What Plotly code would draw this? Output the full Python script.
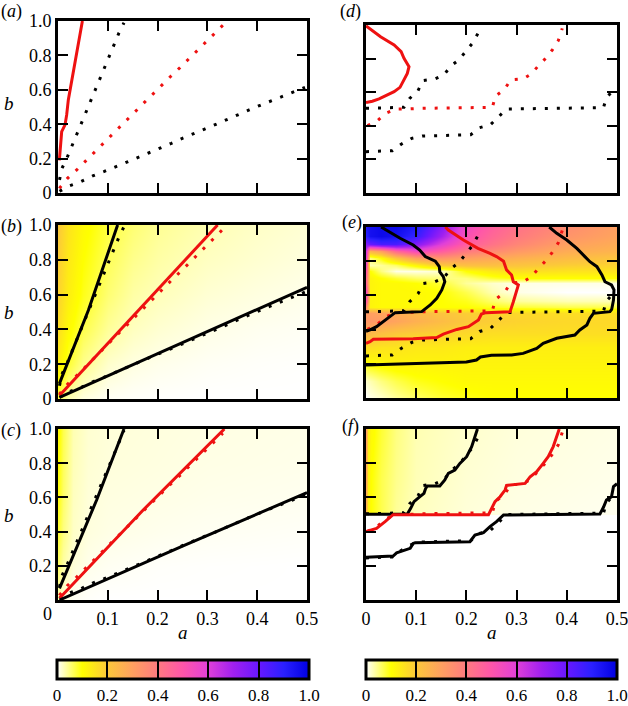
import plotly.graph_objects as go

FONT = "Liberation Serif"
W, H = 628, 706

# ---------------- data ----------------
# panels (a)-(c): dotted reference lines
steep_dot_a = [0.003, 0.008, 0.019, 0.028, 0.0375, 0.046, 0.056, 0.066, 0.0756, 0.084, 0.094, 0.103, 0.113, 0.122, 0.1325]
steep_dot_b = [0.076, 0.143, 0.211, 0.273, 0.337, 0.405, 0.471, 0.537, 0.599, 0.665, 0.731, 0.797, 0.860, 0.928, 0.990]
mid_dot_a = [0.0027, 0.019, 0.0375, 0.054, 0.071, 0.088, 0.106, 0.122, 0.140, 0.157, 0.175, 0.192, 0.2095, 0.227, 0.245, 0.262, 0.280, 0.297, 0.314, 0.331]
mid_dot_b = [0.027, 0.085, 0.134, 0.182, 0.234, 0.283, 0.331, 0.380, 0.432, 0.479, 0.531, 0.579, 0.632, 0.680, 0.729, 0.777, 0.828, 0.876, 0.924, 0.975]
shallow_dot_a = [0.003, 0.024, 0.046, 0.0696, 0.092, 0.115, 0.138, 0.161, 0.183, 0.2055, 0.2276, 0.2497, 0.272, 0.2945, 0.317, 0.339, 0.361, 0.384, 0.406, 0.429, 0.451, 0.4726, 0.496]
shallow_dot_b = [0.01, 0.043, 0.066, 0.099, 0.124, 0.153, 0.178, 0.207, 0.234, 0.264, 0.289, 0.318, 0.343, 0.372, 0.399, 0.428, 0.455, 0.483, 0.510, 0.537, 0.564, 0.591, 0.614]

# panel (a): red solid
a_red_a = [0.0027, 0.0054, 0.0074, 0.0141, 0.0174, 0.0207, 0.0254, 0.034, 0.0415, 0.0482, 0.049]
a_red_b = [0.19, 0.328, 0.357, 0.396, 0.454, 0.541, 0.618, 0.754, 0.870, 0.990, 1.0]

# panel (b): solid lines
b_steep_a = [0.003, 0.061, 0.1197]
b_steep_b = [0.09, 0.51, 1.0]
b_red_a = [0.003, 0.162, 0.3205]
b_red_b = [0.02, 0.511, 1.0]
b_shal_a = [0.003, 0.25, 0.5]
b_shal_b = [0.01, 0.326, 0.642]

# panel (c): solid lines
c_steep_a = [0.003, 0.0776, 0.1325]
c_steep_b = [0.068, 0.585, 1.0]
c_red_a = [0.003, 0.171, 0.334]
c_red_b = [0.01, 0.526, 1.0]
c_shal_a = [0.003, 0.25, 0.5]
c_shal_b = [0.0, 0.315, 0.628]

# panels (d)-(f): dotted reference lines
def_redot_a = [0.003, 0.0226, 0.039, 0.060, 0.084, 0.109, 0.2517, 0.258, 0.276, 0.288, 0.313, 0.329, 0.343, 0.358, 0.371, 0.383, 0.391]
def_redot_b = [0.401, 0.4306, 0.474, 0.50, 0.50, 0.504, 0.51, 0.577, 0.617, 0.673, 0.679, 0.708, 0.756, 0.802, 0.851, 0.907, 0.98]
def_dotA_a = [0.0, 0.0757, 0.087, 0.1036, 0.1135, 0.137, 0.155, 0.169, 0.185, 0.1985, 0.213, 0.2244]
def_dotA_b = [0.504, 0.51, 0.563, 0.609, 0.669, 0.679, 0.702, 0.756, 0.792, 0.841, 0.895, 0.958]
def_dotB_a = [0.0, 0.0525, 0.070, 0.091, 0.112, 0.2085, 0.2264, 0.248, 0.2636, 0.2796, 0.473, 0.479, 0.494]
def_dotB_b = [0.246, 0.252, 0.290, 0.325, 0.339, 0.347, 0.389, 0.407, 0.452, 0.50, 0.508, 0.567, 0.617]

# panel (d): red solid
d_red_a = [0.0, 0.029, 0.056, 0.070, 0.0757, 0.081, 0.0857, 0.0823, 0.0757, 0.0677, 0.056, 0.0425, 0.026, 0.0126, 0.0]
d_red_b = [0.995, 0.93, 0.881, 0.841, 0.802, 0.772, 0.752, 0.712, 0.673, 0.629, 0.603, 0.583, 0.56, 0.546, 0.538]

# panel (e): solid lines
e_blk1_a = [0.03, 0.068, 0.094, 0.107, 0.118, 0.138, 0.146, 0.147, 0.154, 0.157, 0.151, 0.141, 0.128, 0.111, 0.058, 0.048, 0.035, 0.021, 0.008, 0.0]
e_blk1_b = [1.0, 0.934, 0.895, 0.865, 0.827, 0.80, 0.768, 0.737, 0.71, 0.68, 0.632, 0.583, 0.544, 0.505, 0.499, 0.476, 0.446, 0.417, 0.398, 0.39]
e_red_a = [0.158, 0.164, 0.194, 0.223, 0.247, 0.26, 0.274, 0.28, 0.29, 0.2935, 0.3035, 0.300, 0.2935, 0.287, 0.239, 0.230, 0.224, 0.204, 0.181, 0.154, 0.141, 0.094, 0.0146, 0.008, 0.0]
e_red_b = [1.0, 0.982, 0.924, 0.875, 0.846, 0.827, 0.80, 0.749, 0.719, 0.68, 0.661, 0.622, 0.563, 0.505, 0.499, 0.491, 0.456, 0.417, 0.401, 0.374, 0.354, 0.347, 0.343, 0.329, 0.32]
e_blk2_a = [0.0, 0.1, 0.2, 0.22, 0.228, 0.25, 0.29, 0.313, 0.34, 0.353, 0.38, 0.416, 0.426, 0.44, 0.446, 0.453, 0.486, 0.4894, 0.493, 0.494, 0.489, 0.476, 0.47, 0.46, 0.446, 0.436, 0.42, 0.40, 0.38, 0.365]
e_blk2_b = [0.193, 0.2, 0.21, 0.222, 0.24, 0.25, 0.252, 0.261, 0.29, 0.32, 0.349, 0.368, 0.398, 0.427, 0.466, 0.495, 0.505, 0.518, 0.573, 0.632, 0.661, 0.68, 0.72, 0.768, 0.797, 0.827, 0.875, 0.924, 0.963, 1.0]

# panel (f): solid lines
f_blkA_a = [0.0, 0.082, 0.089, 0.0956, 0.1056, 0.1155, 0.1189, 0.122, 0.147, 0.157, 0.164, 0.177, 0.187, 0.2005, 0.2105, 0.217, 0.22, 0.222]
f_blkA_b = [0.501, 0.501, 0.536, 0.575, 0.600, 0.624, 0.653, 0.667, 0.667, 0.702, 0.741, 0.760, 0.799, 0.838, 0.897, 0.955, 0.984, 1.0]
f_red_a = [0.0, 0.021, 0.038, 0.051, 0.054, 0.244, 0.25, 0.257, 0.267, 0.277, 0.28, 0.317, 0.327, 0.34, 0.353, 0.363, 0.373, 0.38, 0.383, 0.385]
f_red_b = [0.40, 0.419, 0.458, 0.493, 0.499, 0.499, 0.536, 0.575, 0.604, 0.643, 0.67, 0.682, 0.721, 0.75, 0.799, 0.838, 0.897, 0.955, 0.984, 1.0]
f_blkB_a = [0.0, 0.054, 0.061, 0.088, 0.094, 0.098, 0.207, 0.217, 0.234, 0.247, 0.26, 0.267, 0.274, 0.466, 0.473, 0.479, 0.489, 0.493, 0.5]
f_blkB_b = [0.25, 0.257, 0.276, 0.302, 0.331, 0.335, 0.341, 0.380, 0.394, 0.429, 0.458, 0.478, 0.497, 0.503, 0.542, 0.585, 0.604, 0.663, 0.68]

# heatmaps
hb_a = [0, 0.02, 0.05, 0.1, 0.15, 0.2, 0.3, 0.4, 0.5]
hb_b = [0, 0.2, 0.4, 0.6, 0.8, 1.0]
hb_z = [
    [0.07, 0.03, 0.012, 0.004, 0.002, 0.001, 0.0, 0.0, 0.0],
    [0.13, 0.08, 0.045, 0.02, 0.012, 0.008, 0.004, 0.002, 0.001],
    [0.16, 0.11, 0.07, 0.04, 0.025, 0.018, 0.01, 0.006, 0.004],
    [0.18, 0.13, 0.09, 0.055, 0.035, 0.027, 0.017, 0.012, 0.008],
    [0.19, 0.14, 0.10, 0.065, 0.045, 0.035, 0.024, 0.018, 0.013],
    [0.20, 0.15, 0.11, 0.075, 0.055, 0.042, 0.03, 0.022, 0.017],
]
hc_a = [0, 0.01, 0.03, 0.06, 0.1, 0.2, 0.3, 0.5]
hc_b = [0, 0.2, 0.4, 0.6, 0.8, 1.0]
hc_z = [
    [0.03, 0.015, 0.005, 0.002, 0.0, 0.0, 0.0, 0.0],
    [0.06, 0.035, 0.015, 0.008, 0.005, 0.002, 0.001, 0.0],
    [0.08, 0.05, 0.022, 0.013, 0.01, 0.007, 0.005, 0.003],
    [0.095, 0.06, 0.025, 0.015, 0.012, 0.01, 0.008, 0.006],
    [0.10, 0.065, 0.028, 0.017, 0.014, 0.012, 0.01, 0.008],
    [0.11, 0.07, 0.03, 0.018, 0.015, 0.013, 0.011, 0.009],
]
he_a = [0, 0.008, 0.03, 0.06, 0.1, 0.15, 0.2, 0.25, 0.3, 0.4, 0.5]
he_b = [0, 0.1, 0.2, 0.3, 0.38, 0.45, 0.5, 0.53, 0.57, 0.62, 0.67, 0.7, 0.74, 0.78, 0.82, 0.86, 0.9, 0.95, 1.0]
he_z = [
    [0.0, 0.01, 0.02, 0.04, 0.06, 0.08, 0.09, 0.1, 0.1, 0.1, 0.1],
    [0.02, 0.03, 0.05, 0.07, 0.09, 0.1, 0.11, 0.11, 0.11, 0.11, 0.11],
    [0.09, 0.1, 0.11, 0.12, 0.12, 0.12, 0.12, 0.12, 0.12, 0.12, 0.12],
    [0.17, 0.16, 0.15, 0.15, 0.14, 0.14, 0.13, 0.13, 0.13, 0.13, 0.13],
    [0.26, 0.24, 0.22, 0.2, 0.19, 0.18, 0.17, 0.16, 0.16, 0.16, 0.16],
    [0.32, 0.32, 0.31, 0.29, 0.26, 0.23, 0.2, 0.19, 0.18, 0.17, 0.17],
    [0.32, 0.3, 0.29, 0.27, 0.24, 0.21, 0.19, 0.18, 0.17, 0.16, 0.16],
    [0.35, 0.12, 0.11, 0.11, 0.11, 0.1, 0.1, 0.09, 0.08, 0.07, 0.07],
    [0.5, 0.12, 0.11, 0.11, 0.11, 0.1, 0.09, 0.06, 0.04, 0.03, 0.03],
    [0.55, 0.12, 0.11, 0.11, 0.11, 0.1, 0.07, 0.03, 0.01, 0.0, 0.0],
    [0.45, 0.12, 0.11, 0.11, 0.1, 0.08, 0.04, 0.02, 0.01, 0.01, 0.01],
    [0.45, 0.12, 0.1, 0.08, 0.06, 0.05, 0.05, 0.08, 0.1, 0.1, 0.1],
    [0.5, 0.1, 0.05, 0.01, 0.01, 0.02, 0.1, 0.14, 0.16, 0.15, 0.15],
    [0.55, 0.03, 0.04, 0.06, 0.12, 0.2, 0.22, 0.22, 0.21, 0.19, 0.18],
    [0.6, 0.05, 0.1, 0.2, 0.3, 0.33, 0.3, 0.28, 0.26, 0.23, 0.21],
    [0.62, 0.25, 0.3, 0.45, 0.55, 0.48, 0.4, 0.36, 0.32, 0.27, 0.25],
    [0.75, 0.8, 0.85, 0.85, 0.75, 0.6, 0.48, 0.42, 0.37, 0.3, 0.27],
    [0.9, 0.95, 0.97, 0.95, 0.88, 0.7, 0.52, 0.45, 0.4, 0.33, 0.29],
    [0.92, 0.95, 0.97, 0.97, 0.92, 0.75, 0.55, 0.47, 0.42, 0.35, 0.3],
]
hf_a = [0, 0.004, 0.01, 0.03, 0.06, 0.1, 0.2, 0.3, 0.5]
hf_b = [0, 0.495, 0.505, 0.7, 1.0]
hf_z = [
    [0, 0, 0, 0, 0, 0, 0, 0, 0],
    [0, 0, 0, 0, 0, 0, 0, 0, 0],
    [0.25, 0.13, 0.1, 0.07, 0.04, 0.025, 0.015, 0.01, 0.006],
    [0.28, 0.13, 0.1, 0.07, 0.045, 0.028, 0.017, 0.012, 0.008],
    [0.30, 0.14, 0.11, 0.08, 0.05, 0.03, 0.02, 0.014, 0.01],
]

x_ticks = [0, 0.1, 0.2, 0.3, 0.4, 0.5]
x_labels_l = ["", "0.1", "0.2", "0.3", "0.4", "0.5"]   # left "0" is set slightly apart, below
x_labels_r = ["0", "0.1", "0.2", "0.3", "0.4", "0.5"]
y_ticks = [0, 0.2, 0.4, 0.6, 0.8, 1.0]
y_labels = ["0", "0.2", "0.4", "0.6", "0.8", "1.0"]
y_labels_c = ["", "0.2", "0.4", "0.6", "0.8", "1.0"]
cb_ticks = [0, 0.2, 0.4, 0.6, 0.8, 1.0]
cb_labels = ["0", "0.2", "0.4", "0.6", "0.8", "1.0"]

colorscale = [
    [0.0, "#ffffff"], [0.1, "#ffff00"], [0.2, "#fcc83a"], [0.3, "#ffa060"],
    [0.4, "#ff7a80"], [0.5, "#ff55aa"], [0.6, "#e040d8"], [0.7, "#a020f0"],
    [0.8, "#6818ff"], [0.9, "#2a20ff"], [1.0, "#0000e0"],
]

# ---------------- figure ----------------
fig = go.Figure()
RED = "#ee1111"
DOT = "3px,9px"

def line(xs, ys, color, n, dotted=False):
    fig.add_trace(go.Scatter(
        x=xs, y=ys, mode="lines", xaxis="x" + n, yaxis="y" + n,
        line=dict(color=color, width=3, dash=DOT if dotted else "solid"),
        hoverinfo="skip", showlegend=False))

def heat(xs, ys, z, n, ca):
    fig.add_trace(go.Heatmap(x=xs, y=ys, z=z, xaxis="x" + n, yaxis="y" + n,
                             coloraxis=ca, zsmooth="best", hoverinfo="skip"))

def left_dots(n):
    line(steep_dot_a, steep_dot_b, "black", n, True)
    line(mid_dot_a, mid_dot_b, RED, n, True)
    line(shallow_dot_a, shallow_dot_b, "black", n, True)

def right_dots(n):
    line(def_dotA_a, def_dotA_b, "black", n, True)
    line(def_dotB_a, def_dotB_b, "black", n, True)
    line(def_redot_a, def_redot_b, RED, n, True)

# (a) -> axes 1
left_dots("")
line(a_red_a, a_red_b, RED, "")
# (d) -> axes 2
right_dots("2")
line(d_red_a, d_red_b, RED, "2")
# (b) -> axes 3
heat(hb_a, hb_b, hb_z, "3", "coloraxis")
left_dots("3")
line(b_steep_a, b_steep_b, "black", "3")
line(b_red_a, b_red_b, RED, "3")
line(b_shal_a, b_shal_b, "black", "3")
# (e) -> axes 4
heat(he_a, he_b, he_z, "4", "coloraxis2")
right_dots("4")
line(e_blk1_a, e_blk1_b, "black", "4")
line(e_red_a, e_red_b, RED, "4")
line(e_blk2_a, e_blk2_b, "black", "4")
# (c) -> axes 5
heat(hc_a, hc_b, hc_z, "5", "coloraxis")
left_dots("5")
line(c_steep_a, c_steep_b, "black", "5")
line(c_red_a, c_red_b, RED, "5")
line(c_shal_a, c_shal_b, "black", "5")
# (f) -> axes 6
heat(hf_a, hf_b, hf_z, "6", "coloraxis2")
right_dots("6")
line(f_blkA_a, f_blkA_b, "black", "6")
line(f_red_a, f_red_b, RED, "6")
line(f_blkB_a, f_blkB_b, "black", "6")

tickfont = dict(family=FONT, size=18, color="black")
common = dict(showline=True, linewidth=3, linecolor="black", mirror="allticks",
              ticks="inside", ticklen=10, tickwidth=2, tickcolor="black",
              showgrid=False, zeroline=False, fixedrange=True, tickfont=tickfont,
              ticklabeloverflow="allow")

LX = [58 / W, 307 / W]
RX = [366 / W, 617 / W]
def ydom(top, bot):
    return [1 - bot / H, 1 - top / H]

panels = {
    "": (LX, ydom(21, 193), None, y_labels),
    "2": (RX, ydom(25, 193), None, None),
    "3": (LX, ydom(225, 399), None, y_labels),
    "4": (RX, ydom(227, 398), None, None),
    "5": (LX, ydom(429, 600), x_labels_l, y_labels_c),
    "6": (RX, ydom(429, 600), x_labels_r, None),
}
layout_axes = {}
for n, (xd, yd, xl, yl) in panels.items():
    xa = dict(common, domain=xd, range=[0, 0.5], anchor="y" + n, tickvals=x_ticks)
    if xl is None:
        xa["showticklabels"] = False
    else:
        xa["ticktext"] = xl
    ya = dict(common, domain=yd, range=[0, 1], anchor="x" + n, tickvals=y_ticks)
    if yl is None:
        ya["showticklabels"] = False
    else:
        ya["ticktext"] = yl
    layout_axes["xaxis" + n] = xa
    layout_axes["yaxis" + n] = ya

def cbar(xc, length):
    return dict(orientation="h", x=xc / W, xanchor="center", y=1 - 660 / H, yanchor="top",
                len=length, lenmode="pixels", thickness=19, thicknessmode="pixels",
                xpad=0, ypad=0, outlinewidth=3, outlinecolor="black", borderwidth=0,
                ticks="inside", ticklen=19, tickwidth=1.5, tickcolor="black",
                tickvals=cb_ticks, ticktext=cb_labels, ticklabeloverflow="allow",
                tickfont=dict(family=FONT, size=17, color="black"))

annotations = []
def txt(x, y, s, size=18):
    annotations.append(dict(x=x / W, y=1 - y / H, xref="paper", yref="paper", text=s,
                            showarrow=False, xanchor="center", yanchor="middle",
                            font=dict(family=FONT, size=size, color="black")))

txt(11, 12, "(<i>a</i>)")
txt(350, 12, "(<i>d</i>)")
txt(11, 226, "(<i>b</i>)")
txt(352, 223, "(<i>e</i>)")
txt(11, 430, "(<i>c</i>)")
txt(350, 426, "(<i>f</i>)")
txt(9, 104, "<i>b</i>", 19)
txt(9, 312, "<i>b</i>", 19)
txt(9, 515, "<i>b</i>", 19)
txt(182.5, 632, "<i>a</i>", 19)
txt(491.5, 632, "<i>a</i>", 19)
txt(47, 614, "0")

fig.update_layout(
    width=W, height=H, margin=dict(l=0, r=0, t=0, b=0, autoexpand=False),
    paper_bgcolor="white", plot_bgcolor="white", showlegend=False,
    font=dict(family=FONT, size=18, color="black"),
    coloraxis=dict(colorscale=colorscale, cmin=0, cmax=1, colorbar=cbar(183, 252)),
    coloraxis2=dict(colorscale=colorscale, cmin=0, cmax=1, colorbar=cbar(491.5, 251)),
    annotations=annotations,
    **layout_axes,
)

fig.write_html("out.html", config={"displayModeBar": False},
               post_script="document.body.style.margin='0';document.body.style.overflow='hidden';")
